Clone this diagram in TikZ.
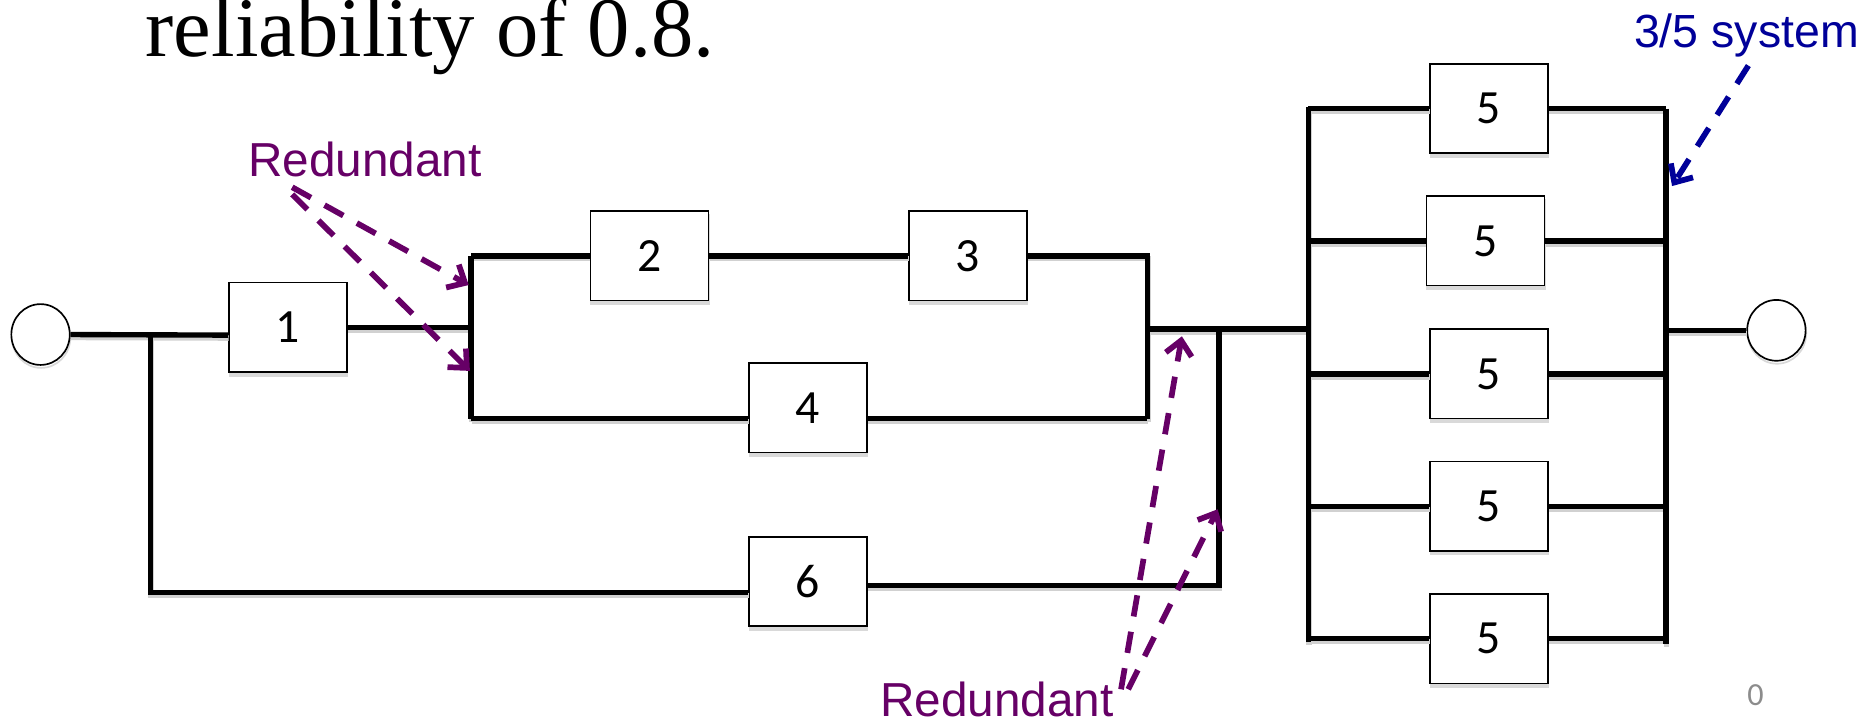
\documentclass[tikz,border=0pt]{standalone}
\usepackage{fontspec}
\setmainfont{Liberation Sans}
\newfontfamily\titlefont{Liberation Serif}
\newfontfamily\boxfont{Carlito}
\usetikzlibrary{arrows.meta,shapes.geometric}
\definecolor{redpurple}{RGB}{102,0,102}
\definecolor{navyblue}{RGB}{0,0,153}
\begin{document}
\begin{tikzpicture}[x=1pt,y=-1pt,
  wire/.style={line width=4.5pt},
  blk/.style={draw, line width=1.4pt, fill=white, minimum width=99pt, minimum height=75pt, inner sep=0pt,
    font=\boxfont\fontsize{40}{46}\selectfont,
    preaction={fill=black!15, draw=black!15, transform canvas={shift={(0.5pt,-3pt)}}}},
  term/.style={draw, ellipse, line width=1.4pt, fill=white, minimum width=49pt, minimum height=51pt, inner sep=0pt,
    preaction={draw=black!15, line width=1.4pt, transform canvas={shift={(0.5pt,-2.5pt)}}}},
  lbl/.style={anchor=base west, inner sep=0pt},
  rarrow/.style={draw=redpurple, line width=4.8pt, dash pattern=on 18pt off 13pt, -{Straight Barb[length=12pt,width=22pt]}},
  barrow/.style={draw=navyblue, line width=4.8pt, dash pattern=on 18pt off 13pt, -{Straight Barb[length=12pt,width=22pt]}}
]
\useasboundingbox (0,0) rectangle (1568,605);
% title
\node[lbl, font=\titlefont\fontsize{71}{80}\selectfont] (title) at (122,47) {reliability of 0.8.};
% terminals
\node[term] (cin) at (34,280.5) {};
\node[term] (cout) at (1489.5,277) {};
% blocks
\node[blk] (b1) at (241.5,274.5) {1};
\node[blk] (b2) at (544.5,214.5) {2};
\node[blk] (b3) at (811.5,214.5) {3};
\node[blk] (b4) at (677.5,342) {4};
\node[blk] (b6) at (677.5,487.5) {6};
\node[blk] (b5a) at (1248.5,91) {5};
\node[blk] (b5b) at (1245.5,202) {5};
\node[blk] (b5c) at (1248.5,313.5) {5};
\node[blk] (b5d) at (1248.5,424.5) {5};
\node[blk] (b5e) at (1248.5,535.5) {5};
% junction coordinates
\coordinate (jL) at (126,281);
\coordinate (jLb) at (126,497);
\coordinate (aT) at (395,214.5);
\coordinate (aB) at (395,351);
\coordinate (cT) at (962,214.5);
\coordinate (cB) at (962,351);
\coordinate (cM) at (962,276);
\coordinate (jR) at (1022,276);
\coordinate (jRb) at (1022,491);
\coordinate (rLT) at (1097,90);
\coordinate (rLM) at (1097,276);
\coordinate (rLB) at (1097,538);
\coordinate (rRT) at (1397,91);
\coordinate (rRB) at (1397,540);
% wires (shadow then black)
\foreach \col/\sx/\sy in {black!18/0.5pt/-2.5pt, black/0pt/0pt}{
\begin{scope}[draw=\col, transform canvas={shift={(\sx,\sy)}}]
\draw[wire] (cin.east) -- (b1.west |- jL);
\draw[wire] (jL) -- (jLb) -- (b6.west |- jLb);
\draw[wire] (b1.east) -- (b1.east -| aT);
\draw[wire] (aT) -- (aB);
\draw[wire] (aT) -- (b2.west);
\draw[wire] (b2.east) -- (b3.west);
\draw[wire] (b3.east) -- (cT) -- (cB);
\draw[wire] (aB) -- (b4.west |- aB);
\draw[wire] (b4.east |- aB) -- (cB);
\draw[wire] (cM) -- (rLM);
\draw[wire] (jR) -- (jRb) -- (b6.east |- jRb);
\draw[wire] (rLT) -- (rLB);
\draw[wire] (rRT) -- (rRB);
\draw[wire] (b5a.west -| rLT) -- (b5a.west);
\draw[wire] (b5a.east) -- (b5a.east -| rRT);
\draw[wire] (b5b.west -| rLT) -- (b5b.west);
\draw[wire] (b5b.east) -- (b5b.east -| rRT);
\draw[wire] (b5c.west -| rLT) -- (b5c.west);
\draw[wire] (b5c.east) -- (b5c.east -| rRT);
\draw[wire] (b5d.west -| rLT) -- (b5d.west);
\draw[wire] (b5d.east) -- (b5d.east -| rRT);
\draw[wire] (b5e.west -| rLT) -- (b5e.west);
\draw[wire] (b5e.east) -- (b5e.east -| rRT);
\draw[wire] (cout.west -| rRT) -- (cout.west);
\end{scope}}
% labels
\node[lbl, text=redpurple, font=\fontsize{40}{48}\selectfont] (red1) at (208,148) {Redundant};
\node[lbl, text=redpurple, font=\fontsize{40}{48}\selectfont] (red2) at (738,601) {Redundant};
\node[lbl, text=navyblue, font=\fontsize{39}{47}\selectfont] (sys) at (1370,40) {3/5 system};
\node[text=black!45, font=\boxfont\fontsize{27}{30}\selectfont] (pg) at (1472,583) {0};
% annotation arrows
\coordinate (r1s) at (245,157);
\coordinate (r1t) at (393,239);
\coordinate (r2s) at (245,163);
\coordinate (r2t) at (394,311);
\coordinate (r3s) at (940,578);
\coordinate (r3t) at (991,282);
\coordinate (r4s) at (946,578);
\coordinate (r4t) at (1021,427);
\coordinate (s1s) at (1466,55);
\coordinate (s1t) at (1402,156);
\draw[rarrow] (r1s) -- (r1t);
\draw[rarrow] (r2s) -- (r2t);
\draw[rarrow] (r3s) -- (r3t);
\draw[rarrow] (r4s) -- (r4t);
\draw[barrow] (s1s) -- (s1t);
\end{tikzpicture}
\end{document}
